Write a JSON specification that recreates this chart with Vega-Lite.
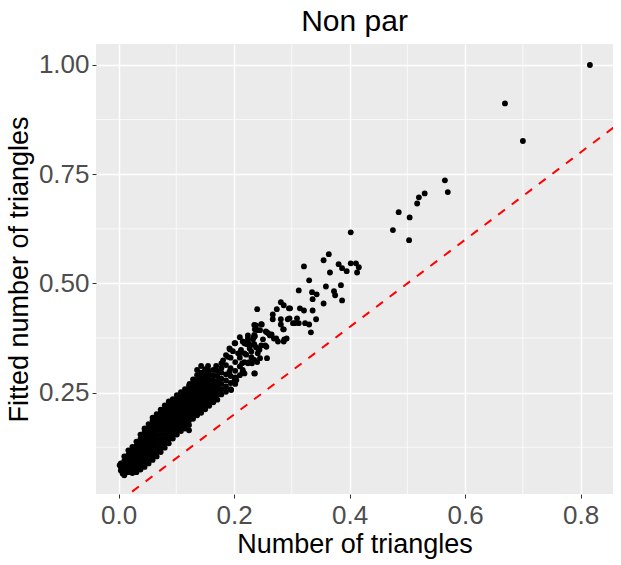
{
  "$schema": "https://vega.github.io/schema/vega-lite/v6.json",
  "width": 517,
  "height": 450,
  "autosize": {"type": "none"},
  "padding": {"left": 96, "top": 44, "right": 8, "bottom": 71},
  "background": "white",
  "title": {"text": "Non par", "fontSize": 30, "font": "Liberation Sans", "fontWeight": "normal", "color": "black", "anchor": "middle", "baseline": "bottom", "offset": 6, "dy": 29},
  "config": {
    "view": {"stroke": null, "fill": "#EBEBEB"},
    "axis": {
      "domain": false, "tickColor": "#333333", "tickSize": 4, "tickWidth": 1,
      "labelColor": "#4D4D4D", "labelFont": "Liberation Sans", "labelFontSize": 26,
      "titleFont": "Liberation Sans", "titleFontSize": 27, "titleFontWeight": "normal", "titleColor": "black",
      "gridColor": "white", "gridWidth": 1.4
    }
  },
  "datasets": {
    "gridx": [{"x": 0.1}, {"x": 0.3}, {"x": 0.5}, {"x": 0.7}],
    "gridy": [{"y": 0.125}, {"y": 0.375}, {"y": 0.625}, {"y": 0.875}],
    "diag": [{"x": 0, "y": 0}, {"x": 0.9, "y": 0.9}],
    "pts": [
      {"x":0.816,"y":1.0},{"x":0.669,"y":0.912},{"x":0.700,"y":0.826},{"x":0.565,"y":0.736},{"x":0.570,"y":0.709},
      {"x":0.530,"y":0.706},{"x":0.520,"y":0.697},{"x":0.517,"y":0.683},{"x":0.504,"y":0.651},{"x":0.485,"y":0.663},
      {"x":0.475,"y":0.622},{"x":0.503,"y":0.599},{"x":0.402,"y":0.617},
      {"x":0.364,"y":0.567},{"x":0.355,"y":0.553},{"x":0.321,"y":0.539},{"x":0.381,"y":0.544},{"x":0.387,"y":0.535},
      {"x":0.402,"y":0.546},{"x":0.411,"y":0.546},{"x":0.416,"y":0.537},{"x":0.413,"y":0.525},{"x":0.395,"y":0.528},
      {"x":0.366,"y":0.525},{"x":0.330,"y":0.507},{"x":0.359,"y":0.493},{"x":0.385,"y":0.496},{"x":0.373,"y":0.482},
      {"x":0.375,"y":0.473},{"x":0.387,"y":0.461},{"x":0.355,"y":0.454},{"x":0.312,"y":0.484},{"x":0.335,"y":0.480},
      {"x":0.343,"y":0.475},{"x":0.336,"y":0.464},{"x":0.336,"y":0.438},{"x":0.342,"y":0.418},{"x":0.321,"y":0.438},
      {"x":0.314,"y":0.443},{"x":0.309,"y":0.420},{"x":0.305,"y":0.409},{"x":0.312,"y":0.409},{"x":0.323,"y":0.409},
      {"x":0.330,"y":0.406},{"x":0.333,"y":0.388},{"x":0.293,"y":0.418},{"x":0.281,"y":0.457},{"x":0.286,"y":0.450},
      {"x":0.295,"y":0.443},{"x":0.297,"y":0.443},{"x":0.274,"y":0.441},{"x":0.267,"y":0.429},{"x":0.267,"y":0.418},
      {"x":0.281,"y":0.418},{"x":0.281,"y":0.406},{"x":0.286,"y":0.395},{"x":0.240,"y":0.441},{"x":0.248,"y":0.406},
      {"x":0.238,"y":0.404},{"x":0.236,"y":0.395},{"x":0.245,"y":0.393},{"x":0.255,"y":0.390},{"x":0.259,"y":0.386},
      {"x":0.265,"y":0.383},{"x":0.262,"y":0.381},{"x":0.269,"y":0.374},{"x":0.276,"y":0.367},{"x":0.286,"y":0.367},
      {"x":0.291,"y":0.374},{"x":0.236,"y":0.379},{"x":0.250,"y":0.372},{"x":0.235,"y":0.405},{"x":0.247,"y":0.407},
      {"x":0.241,"y":0.393},{"x":0.235,"y":0.382},{"x":0.256,"y":0.389},{"x":0.264,"y":0.382},{"x":0.273,"y":0.374},
      {"x":0.287,"y":0.372},{"x":0.285,"y":0.395},{"x":0.302,"y":0.409},{"x":0.227,"y":0.360},{"x":0.256,"y":0.355},
      {"x":0.210,"y":0.377},{"x":0.224,"y":0.381},{"x":0.224,"y":0.374},{"x":0.202,"y":0.363},{"x":0.215,"y":0.367},
      {"x":0.222,"y":0.361},{"x":0.228,"y":0.358},{"x":0.235,"y":0.361},{"x":0.238,"y":0.354},{"x":0.242,"y":0.349},
      {"x":0.247,"y":0.358},{"x":0.254,"y":0.358},{"x":0.193,"y":0.349},{"x":0.198,"y":0.345},{"x":0.209,"y":0.340},
      {"x":0.221,"y":0.337},{"x":0.230,"y":0.331},{"x":0.245,"y":0.329},{"x":0.257,"y":0.329},{"x":0.240,"y":0.320},
      {"x":0.226,"y":0.320},{"x":0.231,"y":0.317},{"x":0.214,"y":0.317},{"x":0.215,"y":0.302},{"x":0.218,"y":0.294},
      {"x":0.236,"y":0.294},{"x":0.233,"y":0.372},{"x":0.218,"y":0.363},{"x":0.201,"y":0.363},{"x":0.212,"y":0.348},
      {"x":0.230,"y":0.344},{"x":0.244,"y":0.348},{"x":0.235,"y":0.294},{"x":0.215,"y":0.298},{"x":0.201,"y":0.279},
      {"x":0.195,"y":0.256},{"x":0.192,"y":0.298},{"x":0.186,"y":0.313},{"x":0.181,"y":0.324},{"x":0.123,"y":0.270},
      {"x":0.143,"y":0.311},{"x":0.155,"y":0.311},{"x":0.149,"y":0.298},{"x":0.169,"y":0.311},{"x":0.178,"y":0.317},
      {"x":0.189,"y":0.332},{"x":0.192,"y":0.351},{"x":0.204,"y":0.279},{"x":0.215,"y":0.298},{"x":0.224,"y":0.317},
      {"x":0.202,"y":0.270},{"x":0.202,"y":0.285},{"x":0.202,"y":0.300},{"x":0.202,"y":0.320},{"x":0.210,"y":0.290},
      {"x":0.210,"y":0.310},{"x":0.210,"y":0.330},{"x":0.218,"y":0.320},{"x":0.218,"y":0.340},
      {"x":0.234,"y":0.377},{"x":0.224,"y":0.367},{"x":0.227,"y":0.351},{"x":0.241,"y":0.340},{"x":0.235,"y":0.325},
      {"x":0.207,"y":0.340},{"x":0.296,"y":0.420},
      {"x":0.002,"y":0.084},{"x":0.010,"y":0.061},{"x":0.007,"y":0.065},
      {"x":0.004,"y":0.072},{"x":0.004,"y":0.080},{"x":0.004,"y":0.088},
      {"x":0.010,"y":0.064},{"x":0.010,"y":0.074},{"x":0.010,"y":0.084},{"x":0.010,"y":0.094},{"x":0.010,"y":0.104},
      {"x":0.017,"y":0.068},{"x":0.017,"y":0.078},{"x":0.017,"y":0.088},{"x":0.017,"y":0.098},{"x":0.017,"y":0.108},{"x":0.017,"y":0.118},
      {"x":0.024,"y":0.066},{"x":0.024,"y":0.076},{"x":0.024,"y":0.086},{"x":0.024,"y":0.096},{"x":0.024,"y":0.106},{"x":0.024,"y":0.116},{"x":0.024,"y":0.126},
      {"x":0.031,"y":0.068},{"x":0.031,"y":0.078},{"x":0.031,"y":0.088},{"x":0.031,"y":0.098},{"x":0.031,"y":0.108},{"x":0.031,"y":0.118},{"x":0.031,"y":0.128},{"x":0.031,"y":0.138},
      {"x":0.038,"y":0.074},{"x":0.038,"y":0.084},{"x":0.038,"y":0.094},{"x":0.038,"y":0.104},{"x":0.038,"y":0.114},{"x":0.038,"y":0.124},{"x":0.038,"y":0.134},{"x":0.038,"y":0.144},{"x":0.038,"y":0.154},
      {"x":0.045,"y":0.080},{"x":0.045,"y":0.090},{"x":0.045,"y":0.100},{"x":0.045,"y":0.110},{"x":0.045,"y":0.120},{"x":0.045,"y":0.130},{"x":0.045,"y":0.140},{"x":0.045,"y":0.150},{"x":0.045,"y":0.160},{"x":0.045,"y":0.168},
      {"x":0.052,"y":0.088},{"x":0.052,"y":0.098},{"x":0.052,"y":0.108},{"x":0.052,"y":0.118},{"x":0.052,"y":0.128},{"x":0.052,"y":0.138},{"x":0.052,"y":0.148},{"x":0.052,"y":0.158},{"x":0.052,"y":0.168},{"x":0.052,"y":0.178},
      {"x":0.059,"y":0.096},{"x":0.059,"y":0.106},{"x":0.059,"y":0.116},{"x":0.059,"y":0.126},{"x":0.059,"y":0.136},{"x":0.059,"y":0.146},{"x":0.059,"y":0.156},{"x":0.059,"y":0.166},{"x":0.059,"y":0.176},{"x":0.059,"y":0.186},{"x":0.059,"y":0.193},
      {"x":0.066,"y":0.104},{"x":0.066,"y":0.114},{"x":0.066,"y":0.124},{"x":0.066,"y":0.134},{"x":0.066,"y":0.144},{"x":0.066,"y":0.154},{"x":0.066,"y":0.164},{"x":0.066,"y":0.174},{"x":0.066,"y":0.184},{"x":0.066,"y":0.194},{"x":0.066,"y":0.201},
      {"x":0.073,"y":0.114},{"x":0.073,"y":0.124},{"x":0.073,"y":0.134},{"x":0.073,"y":0.144},{"x":0.073,"y":0.154},{"x":0.073,"y":0.164},{"x":0.073,"y":0.174},{"x":0.073,"y":0.184},{"x":0.073,"y":0.194},{"x":0.073,"y":0.204},{"x":0.073,"y":0.211},
      {"x":0.080,"y":0.124},{"x":0.080,"y":0.134},{"x":0.080,"y":0.144},{"x":0.080,"y":0.154},{"x":0.080,"y":0.164},{"x":0.080,"y":0.174},{"x":0.080,"y":0.184},{"x":0.080,"y":0.194},{"x":0.080,"y":0.204},{"x":0.080,"y":0.214},{"x":0.080,"y":0.221},
      {"x":0.087,"y":0.134},{"x":0.087,"y":0.144},{"x":0.087,"y":0.154},{"x":0.087,"y":0.164},{"x":0.087,"y":0.174},{"x":0.087,"y":0.184},{"x":0.087,"y":0.194},{"x":0.087,"y":0.204},{"x":0.087,"y":0.214},{"x":0.087,"y":0.224},{"x":0.087,"y":0.230},
      {"x":0.094,"y":0.145},{"x":0.094,"y":0.155},{"x":0.094,"y":0.165},{"x":0.094,"y":0.175},{"x":0.094,"y":0.185},{"x":0.094,"y":0.195},{"x":0.094,"y":0.205},{"x":0.094,"y":0.215},{"x":0.094,"y":0.225},{"x":0.094,"y":0.235},
      {"x":0.101,"y":0.154},{"x":0.101,"y":0.164},{"x":0.101,"y":0.174},{"x":0.101,"y":0.184},{"x":0.101,"y":0.194},{"x":0.101,"y":0.204},{"x":0.101,"y":0.214},{"x":0.101,"y":0.224},{"x":0.101,"y":0.234},{"x":0.101,"y":0.244},
      {"x":0.108,"y":0.162},{"x":0.108,"y":0.172},{"x":0.108,"y":0.182},{"x":0.108,"y":0.192},{"x":0.108,"y":0.202},{"x":0.108,"y":0.212},{"x":0.108,"y":0.222},{"x":0.108,"y":0.232},{"x":0.108,"y":0.242},{"x":0.108,"y":0.251},
      {"x":0.115,"y":0.168},{"x":0.115,"y":0.178},{"x":0.115,"y":0.188},{"x":0.115,"y":0.198},{"x":0.115,"y":0.208},{"x":0.115,"y":0.218},{"x":0.115,"y":0.228},{"x":0.115,"y":0.238},{"x":0.115,"y":0.248},{"x":0.115,"y":0.258},
      {"x":0.122,"y":0.164},{"x":0.122,"y":0.176},{"x":0.122,"y":0.186},{"x":0.122,"y":0.196},{"x":0.122,"y":0.206},{"x":0.122,"y":0.216},{"x":0.122,"y":0.226},{"x":0.122,"y":0.236},{"x":0.122,"y":0.246},{"x":0.122,"y":0.256},{"x":0.122,"y":0.266},
      {"x":0.129,"y":0.190},{"x":0.129,"y":0.200},{"x":0.129,"y":0.210},{"x":0.129,"y":0.220},{"x":0.129,"y":0.230},{"x":0.129,"y":0.240},{"x":0.129,"y":0.250},{"x":0.129,"y":0.260},{"x":0.129,"y":0.270},{"x":0.129,"y":0.280},
      {"x":0.136,"y":0.198},{"x":0.136,"y":0.208},{"x":0.136,"y":0.218},{"x":0.136,"y":0.228},{"x":0.136,"y":0.238},{"x":0.136,"y":0.248},{"x":0.136,"y":0.258},{"x":0.136,"y":0.268},{"x":0.136,"y":0.278},{"x":0.136,"y":0.290},{"x":0.136,"y":0.302},
      {"x":0.143,"y":0.204},{"x":0.143,"y":0.214},{"x":0.143,"y":0.224},{"x":0.143,"y":0.234},{"x":0.143,"y":0.244},{"x":0.143,"y":0.254},{"x":0.143,"y":0.264},{"x":0.143,"y":0.274},{"x":0.143,"y":0.284},{"x":0.143,"y":0.296},
      {"x":0.150,"y":0.212},{"x":0.150,"y":0.222},{"x":0.150,"y":0.232},{"x":0.150,"y":0.242},{"x":0.150,"y":0.252},{"x":0.150,"y":0.262},{"x":0.150,"y":0.272},{"x":0.150,"y":0.282},{"x":0.150,"y":0.292},{"x":0.150,"y":0.304},
      {"x":0.157,"y":0.220},{"x":0.157,"y":0.230},{"x":0.157,"y":0.240},{"x":0.157,"y":0.250},{"x":0.157,"y":0.260},{"x":0.157,"y":0.270},{"x":0.157,"y":0.280},{"x":0.157,"y":0.290},{"x":0.157,"y":0.300},
      {"x":0.164,"y":0.228},{"x":0.164,"y":0.238},{"x":0.164,"y":0.248},{"x":0.164,"y":0.258},{"x":0.164,"y":0.268},{"x":0.164,"y":0.278},{"x":0.164,"y":0.290},{"x":0.164,"y":0.302},
      {"x":0.171,"y":0.234},{"x":0.171,"y":0.246},{"x":0.171,"y":0.256},{"x":0.171,"y":0.266},{"x":0.171,"y":0.276},{"x":0.171,"y":0.288},{"x":0.171,"y":0.300},
      {"x":0.178,"y":0.246},{"x":0.178,"y":0.258},{"x":0.178,"y":0.270},{"x":0.178,"y":0.282},{"x":0.178,"y":0.296},{"x":0.178,"y":0.306},
      {"x":0.186,"y":0.252},{"x":0.186,"y":0.264},{"x":0.186,"y":0.278},{"x":0.186,"y":0.292},{"x":0.186,"y":0.336},
      {"x":0.194,"y":0.258},{"x":0.194,"y":0.272},{"x":0.194,"y":0.288},{"x":0.194,"y":0.306},{"x":0.194,"y":0.330}
    ]
  },
  "layer": [
    {
      "data": {"name": "gridx"},
      "mark": {"type": "rule", "color": "white", "strokeWidth": 0.7},
      "encoding": {
        "x": {"field": "x", "type": "quantitative", "title": "Number of triangles",
              "scale": {"domain": [-0.039, 0.856], "nice": false, "zero": false},
              "axis": {"values": [0, 0.2, 0.4, 0.6, 0.8], "format": ".1f", "labelPadding": 4, "titlePadding": 3, "labelFlush": false}}
      }
    },
    {
      "data": {"name": "gridy"},
      "mark": {"type": "rule", "color": "white", "strokeWidth": 0.7},
      "encoding": {
        "y": {"field": "y", "type": "quantitative", "title": "Fitted number of triangles",
              "scale": {"domain": [0.018, 1.048], "nice": false, "zero": false},
              "axis": {"values": [0.25, 0.5, 0.75, 1.0], "format": ".2f", "labelPadding": 3, "titlePadding": 5, "labelFlush": false}}
      }
    },
    {
      "data": {"name": "pts"},
      "mark": {"type": "circle", "color": "black", "opacity": 1, "size": 34},
      "encoding": {
        "x": {"field": "x", "type": "quantitative", "title": "Number of triangles",
              "scale": {"domain": [-0.039, 0.856], "nice": false, "zero": false},
              "axis": {"values": [0, 0.2, 0.4, 0.6, 0.8], "format": ".1f", "labelPadding": 4, "titlePadding": 3, "labelFlush": false}},
        "y": {"field": "y", "type": "quantitative", "title": "Fitted number of triangles",
              "scale": {"domain": [0.018, 1.048], "nice": false, "zero": false},
              "axis": {"values": [0.25, 0.5, 0.75, 1.0], "format": ".2f", "labelPadding": 3, "titlePadding": 5, "labelFlush": false}}
      }
    },
    {
      "data": {"name": "diag"},
      "mark": {"type": "line", "color": "#FF0000", "strokeWidth": 2, "strokeDash": [8.5, 8.5], "clip": true},
      "encoding": {
        "x": {"field": "x", "type": "quantitative", "title": "Number of triangles",
              "scale": {"domain": [-0.039, 0.856], "nice": false, "zero": false},
              "axis": {"values": [0, 0.2, 0.4, 0.6, 0.8], "format": ".1f", "labelPadding": 4, "titlePadding": 3, "labelFlush": false}},
        "y": {"field": "y", "type": "quantitative", "title": "Fitted number of triangles",
              "scale": {"domain": [0.018, 1.048], "nice": false, "zero": false},
              "axis": {"values": [0.25, 0.5, 0.75, 1.0], "format": ".2f", "labelPadding": 3, "titlePadding": 5, "labelFlush": false}}
      }
    }
  ]
}
